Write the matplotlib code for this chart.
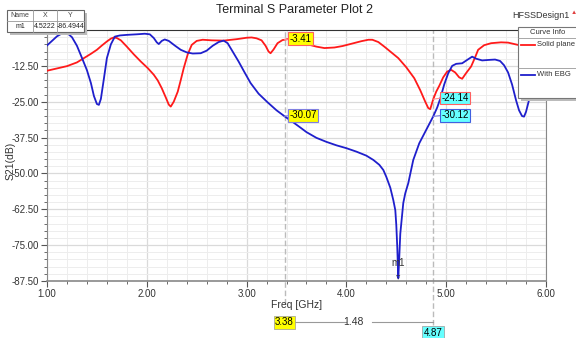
import matplotlib
matplotlib.use("Agg")
import matplotlib.pyplot as plt
import matplotlib.transforms as mtransforms
from matplotlib.patches import Rectangle
import numpy as np

plt.rcParams['font.family'] = ['Liberation Sans', 'DejaVu Sans']

# With EBG (blue)
ebg_f = [1.00, 1.05, 1.10, 1.15, 1.20, 1.25, 1.30, 1.35, 1.40, 1.44, 1.47, 1.50, 1.52, 1.54,
         1.57, 1.60, 1.64, 1.68, 1.73, 1.80, 1.90, 1.98, 2.03, 2.07, 2.10, 2.12, 2.15, 2.18,
         2.22, 2.28, 2.34, 2.40, 2.46, 2.54, 2.60, 2.66, 2.72, 2.77, 2.81, 2.86, 2.92, 2.98,
         3.04, 3.12, 3.21, 3.30, 3.38, 3.46, 3.55, 3.60, 3.70, 3.80, 3.90, 4.00, 4.10, 4.20,
         4.27, 4.33, 4.37, 4.40, 4.44, 4.47, 4.49, 4.50, 4.51, 4.52, 4.53, 4.54, 4.57, 4.59,
         4.62, 4.67, 4.73, 4.80, 4.87, 4.91, 4.94, 4.98, 5.02, 5.06, 5.10, 5.16, 5.22, 5.26,
         5.30, 5.36, 5.44, 5.49, 5.54, 5.58, 5.62, 5.66, 5.70, 5.73, 5.76, 5.78, 5.80, 5.83,
         5.86, 5.90, 5.95, 6.00]
ebg_db = [-5.4, -3.8, -2.2, -1.2, -1.0, -2.5, -5.5, -9.7, -14.0, -18.5, -23.0, -25.8, -26.1, -24.0,
          -17.0, -9.8, -5.0, -2.3, -1.9, -1.7, -1.5, -1.3, -1.5, -2.8, -4.3, -4.9, -3.8, -3.3,
          -3.8, -5.4, -6.9, -7.8, -8.2, -8.1, -7.2, -5.5, -4.2, -3.7, -4.6, -7.5, -11.0, -14.8,
          -18.5, -22.2, -25.2, -28.0, -30.07, -32.0, -34.3, -35.6, -37.6, -39.0, -40.2, -41.2, -42.4, -43.8,
          -45.3, -47.0, -48.8, -51.2, -55.0, -59.3, -62.8, -68.0, -76.0, -86.5, -79.0, -71.0, -60.3, -56.9,
          -53.4, -45.3, -39.5, -34.8, -30.12, -27.0, -24.0, -19.0, -15.1, -12.5, -11.8, -11.6, -10.2, -9.3,
          -10.0, -10.6, -10.4, -10.3, -10.8, -12.3, -14.8, -19.0, -24.5, -28.0, -30.0, -30.2, -28.5, -24.4,
          -18.0, -12.0, -9.0, -8.0]

# Solid plane (red)
solid_f = [1.00, 1.10, 1.20, 1.30, 1.37, 1.44, 1.50, 1.55, 1.60, 1.64, 1.67, 1.70, 1.74, 1.80,
           1.87, 1.94, 2.01, 2.07, 2.11, 2.15, 2.19, 2.22, 2.24, 2.27, 2.31, 2.34, 2.37, 2.41,
           2.45, 2.50, 2.56, 2.65, 2.77, 2.90, 3.00, 3.05, 3.10, 3.15, 3.19, 3.22, 3.24, 3.27,
           3.31, 3.36, 3.38, 3.42, 3.50, 3.60, 3.70, 3.78, 3.88, 3.96, 4.05, 4.15, 4.22, 4.26,
           4.32, 4.38, 4.45, 4.52, 4.60, 4.68, 4.74, 4.79, 4.82, 4.84, 4.87, 4.90, 4.93, 4.97,
           5.01, 5.05, 5.09, 5.13, 5.16, 5.20, 5.25, 5.29, 5.32, 5.38, 5.45, 5.55, 5.62, 5.72,
           5.80, 5.90, 6.00]
solid_db = [-14.2, -13.4, -12.6, -11.3, -9.8, -8.3, -6.9, -5.4, -4.0, -3.0, -2.6, -2.8, -3.6, -5.8,
            -8.5, -11.0, -13.3, -15.6, -17.6, -20.3, -23.5, -26.0, -26.7, -25.0, -21.5, -17.5, -13.3, -8.5,
            -5.2, -3.8, -3.4, -3.6, -3.7, -3.2, -2.7, -2.6, -2.9, -3.6, -5.5, -7.5, -8.1, -6.8,
            -4.6, -3.5, -3.41, -3.1, -3.8, -4.9, -5.8, -6.3, -6.1, -5.6, -4.8, -3.9, -3.4, -3.4,
            -4.2, -5.8, -7.8, -9.8, -13.0, -16.8, -21.0, -25.0, -27.2, -27.6, -24.14, -21.5, -19.5, -16.5,
            -14.5, -13.9, -14.8, -16.5, -17.0, -15.0, -12.7, -9.5, -6.9, -5.3, -4.6, -4.3, -4.4, -5.2,
            -5.5, -5.2, -5.0]

m_f = [3.38, 4.87]
m_delta = 1.48
m_solid = [-3.41, -24.14]
m_ebg = [-30.07, -30.12]
m1_x, m1_y = 4.5222, -86.4944

xticks = [1.0, 2.0, 3.0, 4.0, 5.0, 6.0]
yticks = [-12.5, -25.0, -37.5, -50.0, -62.5, -75.0, -87.5]

fig = plt.figure(figsize=(5.76, 3.38), dpi=100)
ax = fig.add_axes([47/576, 1-281/338, (546-47)/576, (281-30)/338])

ax.set_xlim(1.0, 6.0)
ax.set_ylim(-87.5, 0)
ax.set_xticks(xticks)
ax.set_xticklabels(['%.2f' % v for v in xticks])
ax.set_yticks(yticks)
ax.set_yticklabels(['%.2f' % v for v in yticks])
ax.set_xticks(np.arange(1.0, 6.01, 0.2), minor=True)
ax.set_yticks(np.arange(-87.5, 0.01, 2.5), minor=True)
ax.tick_params(which='major', direction='out', length=4, width=0.8, color='#555555',
               labelsize=7, labelcolor='#333333', pad=2)
ax.tick_params(which='minor', direction='out', length=2.5, width=0.6, color='#555555')
ax.grid(which='minor', color='#ededed', linewidth=0.7)
ax.grid(which='major', color='#dadada', linewidth=0.9)
ax.set_axisbelow(True)
for s in ['left', 'right', 'bottom']:
    ax.spines[s].set_color('#888888')
ax.spines['bottom'].set_linewidth(1.2)
ax.spines['top'].set_color('#333333')

ax.plot(solid_f, solid_db, color='#ff1a1a', lw=1.3, zorder=3)
ax.plot(ebg_f, ebg_db, color='#1f1fcc', lw=1.3, zorder=3)

# marker lines
bt = mtransforms.blended_transform_factory(ax.transData, ax.transAxes)
for f, ylow in zip(m_f, [-0.09, -0.175]):
    ax.plot([f, f], [ylow, 1], transform=bt, color='#bbbbbb', lw=1.0, ls=(0, (4, 2)),
            clip_on=False, zorder=2)

lab_kw = dict(fontsize=7, va='center', ha='left', zorder=5)
ax.text(3.43, -3.1, '%.2f' % m_solid[0], bbox=dict(boxstyle='square,pad=0.15', fc='#ffff00', ec='#ff6060', lw=0.8), **lab_kw)
ax.text(3.43, -29.8, '%.2f' % m_ebg[0], bbox=dict(boxstyle='square,pad=0.15', fc='#ffff00', ec='#8080e0', lw=0.8), **lab_kw)
ax.text(4.95, -23.7, '%.2f' % m_solid[1], bbox=dict(boxstyle='square,pad=0.15', fc='#66ffff', ec='#ff6060', lw=0.8), **lab_kw)
ax.text(4.95, -29.8, '%.2f' % m_ebg[1], bbox=dict(boxstyle='square,pad=0.15', fc='#66ffff', ec='#4060e0', lw=0.8), **lab_kw)
ax.plot([3.38, 3.43], [m_solid[0], -3.1], color='#ff9090', lw=0.8, zorder=4)
ax.plot([3.38, 3.43], [m_ebg[0], -29.8], color='#8080e0', lw=0.8, zorder=4)
ax.plot([4.87, 4.95], [m_solid[1], -23.7], color='#ff9090', lw=0.8, zorder=4)
ax.plot([4.87, 4.95], [m_ebg[1], -29.8], color='#8080e0', lw=0.8, zorder=4)

ax.text(m1_x, m1_y + 3.5, 'm1', fontsize=7, ha='center', va='bottom', color='#333333', zorder=5)
ax.text(m1_x, m1_y, '\u25bd', fontsize=4, ha='center', va='center', color='#333333', zorder=5)

# below axis
ax.text(3.5, -0.095, 'Freq [GHz]', transform=bt, fontsize=7.5, ha='center', va='center', color='#333333')
ax.text(3.38, -0.165, '%.2f' % m_f[0], transform=bt, fontsize=7, ha='center', va='center',
        bbox=dict(boxstyle='square,pad=0.15', fc='#ffff00', ec='#999999', lw=0.5))
ax.text(4.87, -0.207, '%.2f' % m_f[1], transform=bt, fontsize=7, ha='center', va='center',
        bbox=dict(boxstyle='square,pad=0.15', fc='#66ffff', ec='#999999', lw=0.5))
ax.text((m_f[0] + m_f[1]) / 2 - 0.05, -0.165, '%.2f' % m_delta, transform=bt, fontsize=7.5,
        ha='center', va='center', color='#333333')
ax.plot([3.48, 4.0], [-0.165, -0.165], transform=bt, color='#999999', lw=0.8, clip_on=False)
ax.plot([4.26, 4.87], [-0.165, -0.165], transform=bt, color='#999999', lw=0.8, clip_on=False)

ax.set_ylabel('S21(dB)', fontsize=7.5, color='#333333')
ax.yaxis.set_label_coords(-0.062, 0.48)

fig.text(295/576, 1-10/338, 'Terminal S Parameter Plot 2', fontsize=9, ha='center', va='center', color='#222222')
fig.text(541/576, 1-15/338, 'HFSSDesign1', fontsize=6.5, ha='center', va='center', color='#333333')
fig.text(574/576, 1-13/338, '\u25b2', fontsize=4.5, ha='center', va='center', color='#e04040')

# marker table
def fbox(x0, y0, w, h, **kw):
    fig.patches.append(Rectangle((x0/576, 1-(y0+h)/338), w/576, h/338, transform=fig.transFigure, **kw))
fbox(10, 13, 77, 22, fc='#bbbbbb', ec='none', zorder=1)
fbox(7, 10, 77, 22, fc='white', ec='#666666', lw=0.8, zorder=2)
for xx in [33, 57]:
    fig.add_artist(plt.Line2D([xx/576, xx/576], [1-10/338, 1-32/338], color='#999999', lw=0.6, zorder=3))
fig.add_artist(plt.Line2D([7/576, 84/576], [1-21/338, 1-21/338], color='#999999', lw=0.6, zorder=3))
for xc, t1, t2 in [(20, 'Name', 'm1'), (45, 'X', '%.4f' % m1_x), (70.5, 'Y', '%.4f' % m1_y)]:
    fig.text(xc/576, 1-15.5/338, t1, fontsize=5, ha='center', va='center', color='#444444', zorder=4)
    fig.text(xc/576, 1-26.5/338, t2, fontsize=5, ha='center', va='center', color='#222222', zorder=4)

# legend box
fbox(521, 30, 60, 71, fc='#bbbbbb', ec='none', zorder=5)
fbox(518, 27, 60, 71, fc='white', ec='#777777', lw=0.8, zorder=6)
fig.text(548/576, 1-33/338, 'Curve Info', fontsize=5.5, ha='center', va='center', color='#333333', zorder=7)
fig.add_artist(plt.Line2D([518/576, 576/576], [1-38/338, 1-38/338], color='#999999', lw=0.6, zorder=7))
fig.add_artist(plt.Line2D([518/576, 576/576], [1-68/338, 1-68/338], color='#999999', lw=0.6, zorder=7))
fig.add_artist(plt.Line2D([521/576, 535/576], [1-45/338, 1-45/338], color='#ff1a1a', lw=1.3, zorder=7))
fig.add_artist(plt.Line2D([521/576, 535/576], [1-75/338, 1-75/338], color='#1f1fcc', lw=1.3, zorder=7))
fig.text(537/576, 1-45/338, 'Solid plane', fontsize=5.5, ha='left', va='center', color='#333333', zorder=7)
fig.text(537/576, 1-75/338, 'With EBG', fontsize=5.5, ha='left', va='center', color='#333333', zorder=7)

fig.savefig('out.png', dpi=100)
